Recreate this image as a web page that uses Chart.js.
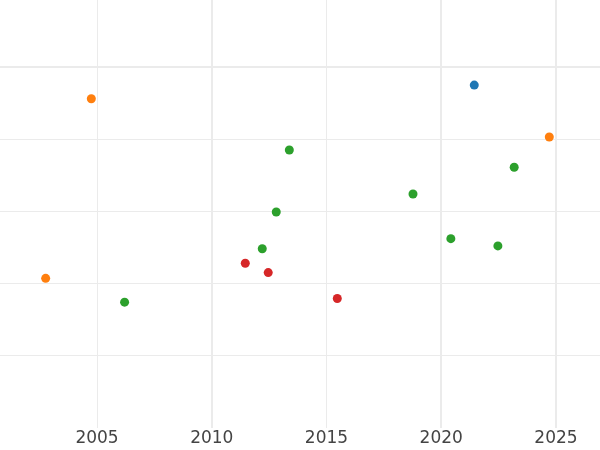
<!DOCTYPE html>
<html>
<head>
<meta charset="utf-8">
<script src="https://cdn.jsdelivr.net/npm/chart.js@4"></script>
<style>
  html, body { margin: 0; padding: 0; background: #fff; }
  #wrap { width: 600px; height: 450px; position: relative; }
</style>
</head>
<body>
<div id="wrap"><canvas id="myChart"></canvas></div>
<script>
// series (x = year, y = value)
const blueX = [2021.44];
const blueY = [4.75];
const orangeX = [2002.76, 2004.75, 2024.71];
const orangeY = [2.07, 4.56, 4.03];
const greenX = [2006.2, 2012.2, 2012.81, 2013.38, 2018.77, 2020.42, 2022.47, 2023.18];
const greenY = [1.74, 2.48, 2.99, 3.85, 3.24, 2.62, 2.52, 3.61];
const redX = [2011.46, 2012.46, 2015.47];
const redY = [2.28, 2.15, 1.79];

const xTicks = [2005, 2010, 2015, 2020, 2025];
const yTicks = [1, 2, 3, 4, 5];
const thickX = [2010, 2020, 2025];
const thickY = [5];

function points(xs, ys) {
  return xs.map((x, i) => ({ x: x, y: ys[i] }));
}

function serie(label, xs, ys, color) {
  return {
    label: label,
    data: points(xs, ys),
    backgroundColor: color,
    borderColor: color,
    pointRadius: 4.5,
    pointBorderWidth: 0,
  };
}

const ctx = document.getElementById("myChart");

new Chart(ctx, {
  type: "scatter",
  data: {
    datasets: [
      serie("blue", blueX, blueY, "#1f77b4"),
      serie("orange", orangeX, orangeY, "#ff7f0e"),
      serie("green", greenX, greenY, "#2ca02c"),
      serie("red", redX, redY, "#d62728"),
    ],
  },
  options: {
    responsive: true,
    maintainAspectRatio: false,
    animation: false,
    layout: { padding: 0, autoPadding: false },
    plugins: {
      legend: { display: false },
      tooltip: { enabled: false },
    },
    scales: {
      x: {
        type: "linear",
        min: 2000.77,
        max: 2026.92,
        afterBuildTicks: (scale) => {
          scale.ticks = xTicks.map((v) => ({ value: v }));
        },
        border: { display: false },
        grid: {
          drawTicks: false,
          color: "#ebebeb",
          lineWidth: (c) => (thickX.includes(c.tick && c.tick.value) ? 2 : 1),
        },
        ticks: {
          autoSkip: false,
          maxRotation: 0,
          padding: 1,
          color: "#444444",
          font: { family: "DejaVu Sans", size: 17 },
          callback: (v) => String(v),
        },
      },
      y: {
        type: "linear",
        min: 0,
        max: 5.93,
        afterBuildTicks: (scale) => {
          scale.ticks = yTicks.map((v) => ({ value: v }));
        },
        border: { display: false },
        grid: {
          drawTicks: false,
          color: "#ebebeb",
          lineWidth: (c) => (thickY.includes(c.tick && c.tick.value) ? 2 : 1),
        },
        ticks: { display: false },
      },
    },
  },
});
</script>
</body>
</html>
